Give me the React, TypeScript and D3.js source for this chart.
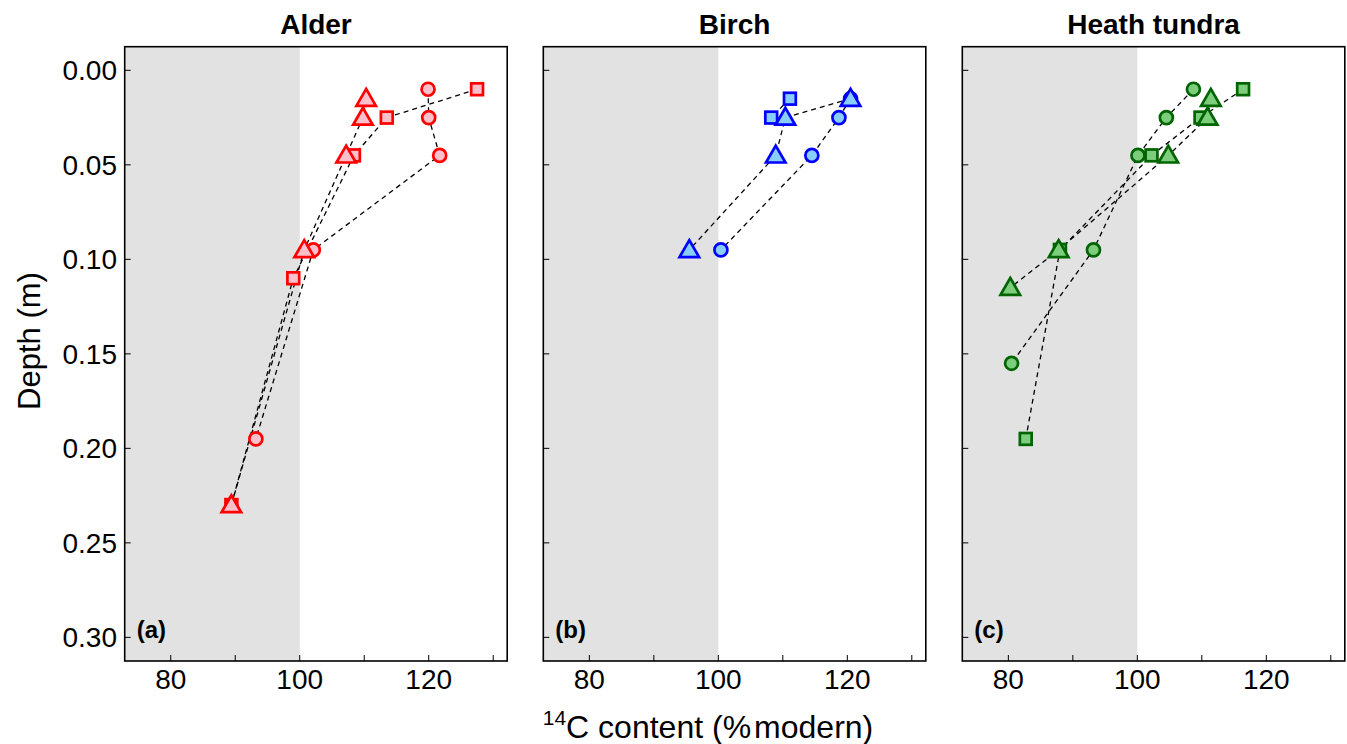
import * as d3 from "d3"

// depth (m) and 14C content (% modern)
const alderCircleDepth = [0.01, 0.025, 0.045, 0.095, 0.195]
const alderCircleC14 = [119.9, 120.0, 121.7, 102.1, 93.2]
const alderSquareDepth = [0.01, 0.025, 0.045, 0.11, 0.23]
const alderSquareC14 = [127.5, 113.5, 108.4, 99.0, 89.4]
const alderTriangleDepth = [0.015, 0.025, 0.045, 0.095, 0.23]
const alderTriangleC14 = [110.3, 109.8, 107.2, 100.7, 89.4]

const birchCircleDepth = [0.015, 0.025, 0.045, 0.095]
const birchCircleC14 = [120.5, 118.7, 114.5, 100.4]
const birchSquareDepth = [0.015, 0.025]
const birchSquareC14 = [111.1, 108.2]
const birchTriangleDepth = [0.015, 0.025, 0.045, 0.095]
const birchTriangleC14 = [120.5, 110.4, 108.9, 95.5]

const heathCircleDepth = [0.01, 0.025, 0.045, 0.095, 0.155]
const heathCircleC14 = [108.7, 104.5, 100.1, 93.2, 80.5]
const heathSquareDepth = [0.01, 0.025, 0.045, 0.095, 0.195]
const heathSquareC14 = [116.4, 109.8, 102.2, 88.0, 82.7]
const heathTriangleDepth = [0.015, 0.025, 0.045, 0.095, 0.115]
const heathTriangleC14 = [111.4, 110.9, 104.8, 87.8, 80.3]

const panelTitles = ["Alder", "Birch", "Heath tundra"]
const panelLetters = ["(a)", "(b)", "(c)"]
const depthTicks = [0, 0.05, 0.1, 0.15, 0.2, 0.25, 0.3]
const c14Ticks = [80, 90, 100, 110, 120, 130]
const c14Labels = [80, 100, 120]

type Shape = "circle" | "square" | "triangle"
interface Series {
  shape: Shape
  depth: number[]
  c14: number[]
}

const zip = (depth: number[], c14: number[]) => depth.map((d, i) => ({ depth: d, c14: c14[i] }))

const panels = [
  {
    stroke: "#ff0000",
    fill: "#ffc0cb",
    series: [
      { shape: "circle", depth: alderCircleDepth, c14: alderCircleC14 },
      { shape: "square", depth: alderSquareDepth, c14: alderSquareC14 },
      { shape: "triangle", depth: alderTriangleDepth, c14: alderTriangleC14 },
    ] as Series[],
  },
  {
    stroke: "#0000ff",
    fill: "#87cefa",
    series: [
      { shape: "circle", depth: birchCircleDepth, c14: birchCircleC14 },
      { shape: "square", depth: birchSquareDepth, c14: birchSquareC14 },
      { shape: "triangle", depth: birchTriangleDepth, c14: birchTriangleC14 },
    ] as Series[],
  },
  {
    stroke: "#006400",
    fill: "#7ccd7c",
    series: [
      { shape: "circle", depth: heathCircleDepth, c14: heathCircleC14 },
      { shape: "square", depth: heathSquareDepth, c14: heathSquareC14 },
      { shape: "triangle", depth: heathTriangleDepth, c14: heathTriangleC14 },
    ] as Series[],
  },
]

const W = 1347
const H = 744
const panelLeft = [124.7, 543.3, 962.3]
const panelWidth = 382.5
const top = 46.7
const bottom = 661
const font = "'Liberation Sans', Arial, sans-serif"

function Marker({ shape, x, y, stroke, fill }: { shape: Shape; x: number; y: number; stroke: string; fill: string }) {
  const sw = 2.7
  if (shape === "circle") return <circle cx={x} cy={y} r={6.5} fill={fill} stroke={stroke} strokeWidth={sw} />
  if (shape === "square")
    return <rect x={x - 5.9} y={y - 5.9} width={11.8} height={11.8} fill={fill} stroke={stroke} strokeWidth={sw} />
  const tri = d3.symbol(d3.symbolTriangle, 165)()
  return <path d={tri ?? ""} transform={`translate(${x},${y + 1.5})`} fill={fill} stroke={stroke} strokeWidth={sw} strokeLinejoin="miter" />
}

export default function App() {
  const y = d3.scaleLinear().domain([-0.0125, 0.3125]).range([top, bottom])
  const line = (x: d3.ScaleLinear<number, number>) =>
    d3
      .line<{ depth: number; c14: number }>()
      .x((d) => x(d.c14))
      .y((d) => y(d.depth))

  return (
    <svg width={W} height={H} style={{ position: "absolute", left: 0, top: 0, background: "#fff" }} fontFamily={font}>
      {panels.map((p, i) => {
        const x0 = panelLeft[i]
        const x = d3.scaleLinear().domain([72.86, 132.17]).range([x0, x0 + panelWidth])
        const ln = line(x)
        return (
          <g key={i}>
            <rect x={x0} y={top} width={x(100) - x0} height={bottom - top} fill="#e2e2e2" />
            {/* dashed profile lines */}
            {p.series.map((s, j) => (
              <path key={j} d={ln(zip(s.depth, s.c14)) ?? ""} fill="none" stroke="#000" strokeWidth={1.3} strokeDasharray="5,4" />
            ))}
            {p.series.map((s, j) =>
              zip(s.depth, s.c14).map((d, k) => (
                <Marker key={`${j}-${k}`} shape={s.shape} x={x(d.c14)} y={y(d.depth)} stroke={p.stroke} fill={p.fill} />
              ))
            )}
            {/* inward ticks */}
            {c14Ticks.map((t) => (
              <line key={t} x1={x(t)} x2={x(t)} y1={bottom} y2={bottom - 6} stroke="#000" strokeWidth={1} />
            ))}
            {depthTicks.map((t) => (
              <line key={t} x1={x0} x2={x0 + 6} y1={y(t)} y2={y(t)} stroke="#000" strokeWidth={1} />
            ))}
            <rect x={x0} y={top} width={panelWidth} height={bottom - top} fill="none" stroke="#000" strokeWidth={1.6} />
            {c14Labels.map((t) => (
              <text key={t} x={x(t)} y={689} textAnchor="middle" fontSize={28} fill="#000">
                {t}
              </text>
            ))}
            <text x={x0 + panelWidth / 2} y={34} textAnchor="middle" fontSize={28} fontWeight="bold">
              {panelTitles[i]}
            </text>
            <text x={x0 + 12} y={638} fontSize={24} fontWeight="bold" fontFamily="'Liberation Sans Narrow', 'Liberation Sans', sans-serif">
              {panelLetters[i]}
            </text>
          </g>
        )
      })}
      {depthTicks.map((t) => (
        <text key={t} x={117} y={y(t)} dy="0.36em" textAnchor="end" fontSize={28}>
          {d3.format(".2f")(t)}
        </text>
      ))}
      <text transform={`translate(40,341) rotate(-90)`} textAnchor="middle" fontSize={31}>
        Depth (m)
      </text>
      <text x={708} y={738} textAnchor="middle" fontSize={32}>
        <tspan fontSize={21} dy={-13}>14</tspan>
        <tspan dy={13}>C content (%</tspan>
        <tspan dx={3}>modern)</tspan>
      </text>
    </svg>
  )
}
